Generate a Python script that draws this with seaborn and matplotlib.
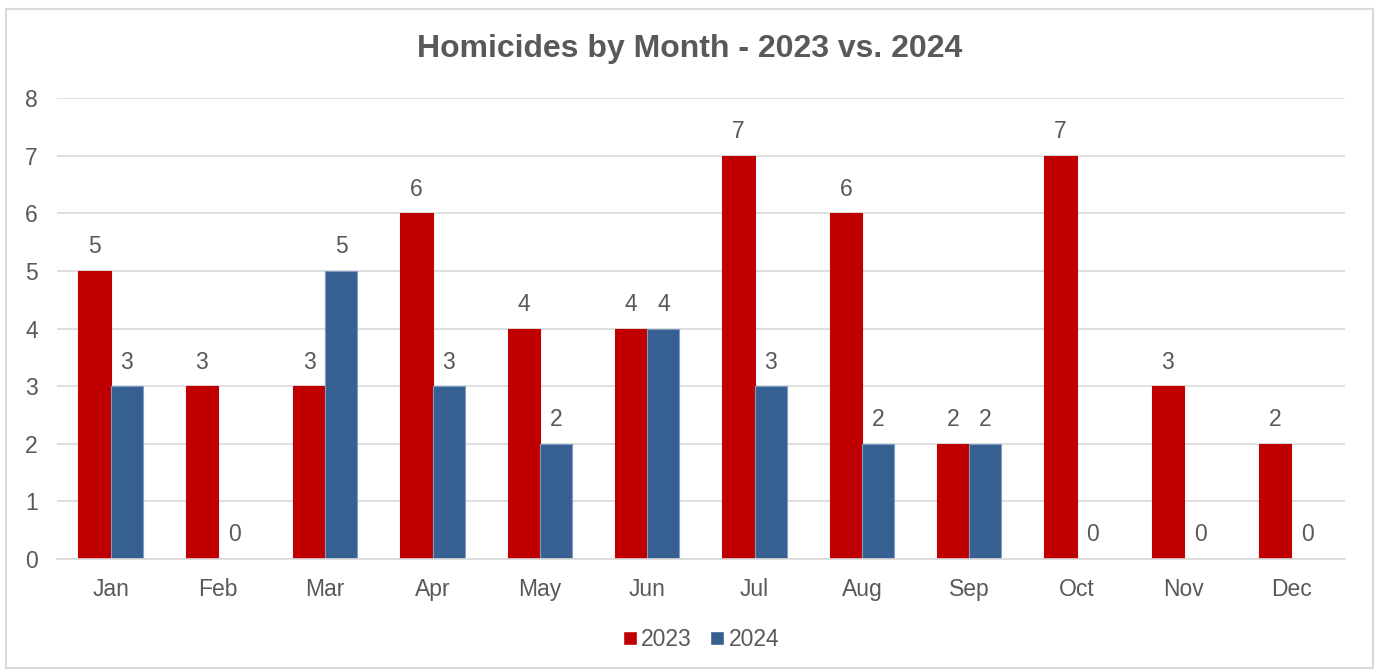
import matplotlib.pyplot as plt
import seaborn as sns
import pandas as pd
from matplotlib.patches import Rectangle

months = ["Jan", "Feb", "Mar", "Apr", "May", "Jun", "Jul", "Aug", "Sep", "Oct", "Nov", "Dec"]
y2023 = [5, 3, 3, 6, 4, 4, 7, 6, 2, 7, 3, 2]
y2024 = [3, 0, 5, 3, 2, 4, 3, 2, 2, 0, 0, 0]
years = ["2023", "2024"]
colors = ["#C00000", "#366092"]

data = pd.DataFrame({
    "month": months * 2,
    "year": [years[0]] * 12 + [years[1]] * 12,
    "count": y2023 + y2024,
})

sns.set_style("white")
plt.rcParams["font.family"] = ["Liberation Sans", "DejaVu Sans"]
text_color = "#595959"

fig = plt.figure(figsize=(13.79, 6.70), dpi=100)
ax = fig.add_axes([0.0413, 0.1657, 0.934, 0.688])

sns.barplot(data=data, x="month", y="count", hue="year", order=months,
            hue_order=years, palette=colors, saturation=1, width=0.6, ax=ax,
            legend=True)

for bar_group, c in zip(ax.containers, colors):
    for b in bar_group:
        b.set_edgecolor("#7F9CC4" if c == colors[1] else c)
        b.set_linewidth(0.8)
    ax.bar_label(bar_group, labels=[str(int(v)) for v in bar_group.datavalues],
                 padding=9, fontsize=16.5, color=text_color)

ax.set_ylim(0, 8)
ax.set_xlim(-0.5, 11.5)
ax.set_yticks(range(0, 9))
ax.yaxis.grid(True, color="#D9D9D9", linewidth=1.2)
ax.set_axisbelow(True)
for s in ["top", "right", "left"]:
    ax.spines[s].set_visible(False)
ax.spines["bottom"].set_color("#D9D9D9")
ax.spines["bottom"].set_linewidth(1.2)
ax.tick_params(axis="both", length=0, labelsize=16.5, labelcolor=text_color)
ax.tick_params(axis="x", pad=14)
ax.tick_params(axis="y", pad=23)
for t in ax.get_yticklabels():
    t.set_horizontalalignment("left")
ax.set_xlabel("")
ax.set_ylabel("")

fig.text(0.5, 0.927, "Homicides by Month - 2023 vs. 2024", ha="center", va="center",
         fontsize=23, fontweight="bold", color=text_color)

ax.legend(loc="upper center", bbox_to_anchor=(0.5, -0.105), ncol=2, frameon=False,
          fontsize=16.5, labelcolor=text_color, handlelength=0.6, handleheight=0.6,
          handletextpad=0.2, columnspacing=0.8)

fig.patches.append(Rectangle((0.004, 0.003), 0.992, 0.984, transform=fig.transFigure,
                             fill=False, edgecolor="#D9D9D9", linewidth=1.5))

fig.savefig("out.png", dpi=100)
